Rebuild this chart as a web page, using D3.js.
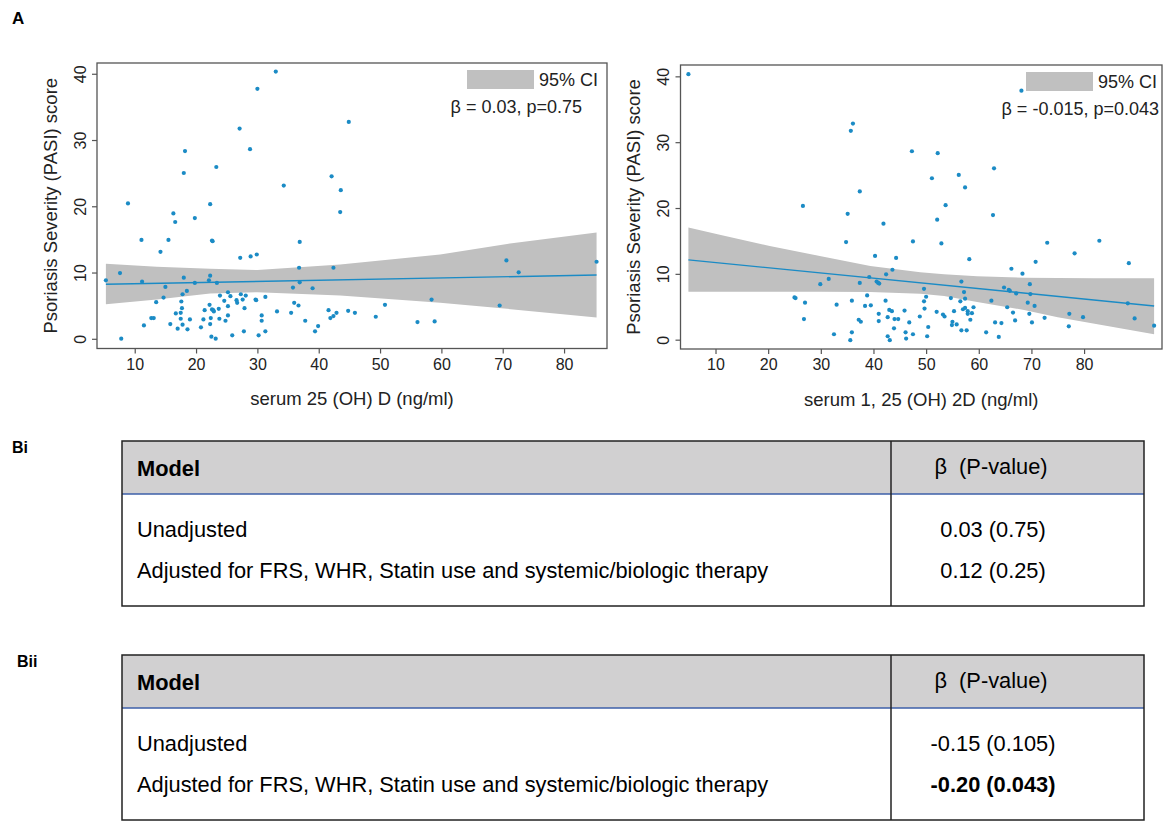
<!DOCTYPE html>
<html>
<head>
<meta charset="utf-8">
<script src="https://cdn.jsdelivr.net/npm/d3@7"></script>
<style>
  body { margin: 0; background: #fff; }
  svg { display: block; font-family: "Liberation Sans", Arial, Helvetica, sans-serif; }
</style>
</head>
<body>
<svg id="fig" width="1173" height="821"></svg>
<script>
// panel A (left): serum 25 (OH) D vs PASI
var ptsLeft = [[5.3,8.9],[7.6,10.0],[7.8,0.1],[8.9,20.5],[11.1,15.0],[11.2,8.7],[11.5,2.1],[12.7,3.2],[13.1,3.2],[13.5,5.6],
  [14.2,13.2],[14.7,6.3],[15.0,7.9],[15.5,15.0],[15.8,2.3],[16.3,19.0],[16.6,17.7],[16.7,3.9],[17.0,1.6],[17.5,4.0],
  [17.5,3.1],[17.6,5.7],[17.7,4.7],[17.8,6.8],[17.8,2.2],[18.0,9.3],[18.0,25.1],[18.2,28.4],[18.5,7.3],[18.6,1.5],
  [19.0,3.0],[19.8,18.3],[19.8,8.5],[20.8,1.8],[21.2,3.0],[21.4,4.4],[22.1,8.9],[22.2,5.2],[22.3,20.4],[22.3,9.6],
  [22.3,2.3],[22.4,3.2],[22.5,0.4],[22.6,14.9],[22.7,14.8],[22.6,4.5],[22.8,4.4],[22.9,4.2],[23.2,0.1],[23.3,26.0],
  [23.4,8.5],[23.7,4.6],[23.8,3.1],[23.9,6.6],[24.6,5.8],[24.8,2.8],[25.2,7.1],[25.2,5.0],[25.2,3.6],[25.6,6.5],
  [25.9,0.6],[26.6,5.9],[26.7,5.5],[27.1,31.8],[27.2,12.3],[27.3,6.8],[27.6,6.0],[27.8,1.2],[27.9,4.7],[28.1,6.6],
  [28.8,28.7],[28.9,12.5],[29.7,6.0],[29.8,5.9],[29.9,12.8],[30.0,37.8],[30.2,0.6],[30.7,3.6],[30.7,2.8],[31.3,6.4],
  [31.3,1.2],[33.0,40.4],[33.2,4.2],[34.3,23.2],[35.5,4.0],[35.8,7.8],[36.0,5.5],[36.7,5.1],[36.8,10.8],[36.9,14.7],
  [36.9,8.6],[37.8,2.8],[39.0,7.7],[39.4,1.2],[39.9,2.0],[41.6,4.4],[41.9,3.2],[42.1,24.6],[42.4,10.8],[42.4,3.5],
  [42.9,4.0],[43.5,19.2],[43.6,22.5],[44.8,4.3],[44.9,32.8],[45.9,4.0],[49.3,3.4],[50.8,5.2],[56.1,2.6],[58.4,6.0],
  [58.9,2.7],[69.5,5.1],[70.6,11.9],[72.6,10.1],[85.3,11.7]];
var fitLeft = [[5.3,8.3],[85.3,9.7]];
var bandXLeft  = [5.3, 13.6, 22.3, 30, 43.5, 59.8, 70.7, 85.3];
var bandLoLeft = [5.3, 6.0, 6.9, 7.1, 6.6, 5.5, 4.6, 3.3];
var bandHiLeft = [11.4, 10.95, 10.65, 10.45, 11.3, 12.8, 14.4, 16.1];

// panel A (right): serum 1,25 (OH) 2D vs PASI
var ptsRight = [[4.85,40.4],[25.0,6.5],[25.2,6.4],[26.6,20.4],[27.0,5.7],[26.8,3.2],[29.9,8.5],[31.5,9.3],[32.5,0.9],[33.0,5.4],
  [34.8,14.9],[35.1,19.2],[35.6,0.0],[35.7,31.8],[35.9,6.0],[35.9,1.2],[36.1,32.9],[37.2,3.1],[37.4,8.7],[37.4,22.6],
  [37.6,2.8],[38.4,5.2],[38.8,6.8],[39.2,9.6],[39.5,5.3],[40.3,12.8],[40.6,8.9],[40.9,8.7],[41.1,8.6],[41.0,4.0],
  [41.0,2.9],[41.9,17.7],[42.3,6.0],[42.4,10.0],[42.7,0.6],[42.7,3.5],[43.0,4.6],[43.1,0.0],[43.5,4.4],[43.6,10.7],
  [43.9,1.8],[44.0,3.2],[44.3,12.5],[44.7,3.2],[45.9,4.5],[46.1,1.2],[46.2,0.25],[46.8,2.7],[47.3,28.7],[47.5,15.0],
  [47.5,0.9],[48.8,3.6],[49.6,7.8],[49.6,5.9],[49.7,4.8],[50.0,6.6],[50.2,0.6],[50.4,2.0],[51.1,24.6],[52.0,4.3],
  [52.1,18.3],[52.2,28.4],[52.9,14.7],[53.2,3.9],[53.5,3.6],[53.7,20.5],[54.7,6.4],[54.9,2.3],[55.0,2.8],[55.3,4.4],
  [55.8,2.4],[56.2,25.1],[56.5,5.9],[56.7,8.9],[56.7,1.5],[57.0,4.7],[57.2,7.3],[57.4,23.2],[57.4,6.3],[57.4,4.9],
  [57.7,1.5],[57.9,4.0],[57.9,4.4],[58.2,12.3],[58.4,3.1],[58.7,4.1],[59.0,5.0],[61.4,1.2],[62.4,6.0],[62.7,19.0],
  [62.9,26.1],[63.1,2.7],[63.8,0.5],[64.3,2.6],[64.8,8.0],[65.4,5.0],[65.7,7.65],[65.9,7.5],[66.2,10.85],[66.5,4.2],
  [66.9,3.0],[67.1,7.1],[68.1,37.9],[68.3,10.1],[69.3,5.7],[69.7,8.5],[69.8,7.0],[69.6,4.0],[70.1,2.7],[70.6,5.2],
  [70.8,11.9],[72.5,3.4],[73.0,14.8],[77.1,2.1],[77.2,4.0],[78.2,13.2],[79.8,3.5],[82.9,15.1],[88.3,5.6],[88.5,11.7],
  [89.6,3.3],[93.3,2.2]];
var fitRight = [[4.85,12.2],[93.3,5.2]];
var bandXRight  = [4.85, 10.8, 20.3, 29.8, 39.4, 48.9, 53.4, 59.7, 68.6, 75, 82, 93.3];
var bandHiRight = [17.1, 16.0, 14.3, 12.8, 11.25, 10.3, 10.0, 9.7, 9.5, 9.45, 9.4, 9.4];
var bandLoRight = [7.35, 7.35, 7.35, 7.35, 7.3, 7.05, 6.7, 5.8, 4.6, 3.5, 2.5, 0.9];

var yTicks = [0, 10, 20, 30, 40];
var xTicks = [10, 20, 30, 40, 50, 60, 70, 80];
var yTitle = "Psoriasis Severity (PASI) score";
var xTitleLeft = "serum 25 (OH) D (ng/ml)";
var xTitleRight = "serum 1, 25 (OH) 2D (ng/ml)";
var statLeft = "\u03b2 = 0.03, p=0.75";
var statRight = "\u03b2 = -0.015, p=0.043";

// tables Bi / Bii
var tableHeader = ["Model", "\u03b2\u00a0 (P-value)"];
var modelNames = ["Unadjusted", "Adjusted for FRS, WHR, Statin use and systemic/biologic therapy"];
var betaBi  = ["0.03 (0.75)", "0.12 (0.25)"];
var betaBii = ["-0.15 (0.105)", "-0.20 (0.043)"];
var boldBii = [false, true];

var blue = "#1b8bc5";
var svg = d3.select("#fig");

svg.append("text").attr("x", 12).attr("y", 24)
  .style("font-weight", "bold").style("font-size", "17px").text("A");

function drawPanel(o) {
  var x = d3.scaleLinear().domain(o.xDom).range([o.left, o.right]);
  var y = d3.scaleLinear().domain(o.yDom).range([o.bottom, o.top]);
  var g = svg.append("g");

  // confidence band
  var band = o.bandX.map((d, i) => ({x: d, lo: o.bandLo[i], hi: o.bandHi[i]}));
  g.append("path").datum(band)
    .attr("fill", "#c0c0c0")
    .attr("d", d3.area().x(d => x(d.x)).y0(d => y(d.lo)).y1(d => y(d.hi)));

  // fitted line
  g.append("path").datum(o.fit)
    .attr("fill", "none").attr("stroke", blue).attr("stroke-width", 1.4)
    .attr("d", d3.line().x(d => x(d[0])).y(d => y(d[1])));

  g.selectAll("circle.pt").data(o.pts).enter().append("circle")
    .attr("class", "pt")
    .attr("cx", d => x(d[0])).attr("cy", d => y(d[1]))
    .attr("r", 2.1).attr("fill", blue);

  // frame
  g.append("rect").attr("x", o.left).attr("y", o.top)
    .attr("width", o.right - o.left).attr("height", o.bottom - o.top)
    .attr("fill", "none").attr("stroke", "#555").attr("stroke-width", 1.3);

  // axes
  var ya = g.append("g").attr("transform", "translate(" + o.left + ",0)")
    .call(d3.axisLeft(y).tickValues(yTicks).tickSize(5).tickFormat(d3.format("d")));
  ya.select(".domain").remove();
  ya.selectAll("line").attr("stroke", "#555").attr("stroke-width", 1.2);
  ya.selectAll("text")
    .attr("x", 0).attr("dy", null)
    .attr("transform", d => "translate(-17," + y(d) + ") rotate(-90)")
    .attr("y", 0)
    .attr("text-anchor", "middle").attr("dominant-baseline", "central")
    .style("font-size", "16px").attr("fill", "#222");
  ya.selectAll(".tick").attr("transform", null);
  ya.selectAll(".tick line").attr("y1", d => y(d)).attr("y2", d => y(d)).attr("x2", -5);

  var xa = g.append("g").attr("transform", "translate(0," + o.bottom + ")")
    .call(d3.axisBottom(x).tickValues(xTicks).tickSize(5).tickFormat(d3.format("d")));
  xa.select(".domain").remove();
  xa.selectAll("line").attr("stroke", "#555").attr("stroke-width", 1.2);
  xa.selectAll("text").attr("y", 10).style("font-size", "16px").attr("fill", "#222");

  // titles
  g.append("text")
    .attr("transform", "translate(" + (o.left - 47) + "," + ((o.top + o.bottom) / 2) + ") rotate(-90)")
    .attr("text-anchor", "middle").attr("dominant-baseline", "central")
    .style("font-size", "18.5px").attr("fill", "#222").text(yTitle);
  g.append("text")
    .attr("x", (o.left + o.right) / 2).attr("y", o.bottom + 50)
    .attr("text-anchor", "middle").attr("dominant-baseline", "central")
    .style("font-size", "18.5px").attr("fill", "#222").text(o.xTitle);

  // legend
  g.append("rect").attr("x", o.legX).attr("y", o.top + 7)
    .attr("width", 67).attr("height", 19).attr("fill", "#c0c0c0");
  g.append("text").attr("x", o.legX + 72).attr("y", o.top + 17)
    .attr("dominant-baseline", "central").style("font-size", "18px").attr("fill", "#222")
    .text("95% CI");
  g.append("text").attr("x", o.statX).attr("y", o.top + 44)
    .attr("text-anchor", "end").attr("dominant-baseline", "central")
    .style("font-size", "18px").attr("fill", "#222").text(o.stat);
}

drawPanel({left: 97, right: 607, top: 63, bottom: 348.5,
  xDom: [3.85, 87.0], yDom: [-1.39, 41.7],
  pts: ptsLeft, fit: fitLeft, bandX: bandXLeft, bandLo: bandLoLeft, bandHi: bandHiLeft,
  xTitle: xTitleLeft, stat: statLeft, legX: 467, statX: 582});

drawPanel({left: 680.5, right: 1162, top: 65, bottom: 349,
  xDom: [3.35, 94.8], yDom: [-1.34, 41.8],
  pts: ptsRight, fit: fitRight, bandX: bandXRight, bandLo: bandLoRight, bandHi: bandHiRight,
  xTitle: xTitleRight, stat: statRight, legX: 1026, statX: 1159});

function drawTable(label, labelX, top, values, bold) {
  var left = 122, right = 1144, split = 891, headH = 53, h = 165;
  var fs = "21.8px";
  var t = svg.append("g");
  t.append("text").attr("x", labelX).attr("y", top + 6)
    .attr("dominant-baseline", "central")
    .style("font-weight", "bold").style("font-size", "16px").text(label);
  t.append("rect").attr("x", left).attr("y", top).attr("width", right - left).attr("height", headH)
    .attr("fill", "#d1d0d1");
  t.append("line").attr("x1", left).attr("x2", right).attr("y1", top + headH).attr("y2", top + headH)
    .attr("stroke", "#3c5fa8").attr("stroke-width", 1.5);
  t.append("rect").attr("x", left).attr("y", top).attr("width", right - left).attr("height", h)
    .attr("fill", "none").attr("stroke", "#222").attr("stroke-width", 1.5);
  t.append("line").attr("x1", split).attr("x2", split).attr("y1", top).attr("y2", top + h)
    .attr("stroke", "#222").attr("stroke-width", 1.5);

  var colX = 991;
  t.append("text").attr("x", 137).attr("y", top + 27).attr("dominant-baseline", "central")
    .style("font-size", fs).style("font-weight", "bold").text(tableHeader[0]);
  t.append("text").attr("x", colX).attr("y", top + 25).attr("text-anchor", "middle")
    .attr("dominant-baseline", "central").style("font-size", fs).text(tableHeader[1]);

  var rowY = [top + 88, top + 129];
  t.selectAll("text.name").data(modelNames).enter().append("text")
    .attr("class", "name").attr("x", 137).attr("y", (d, i) => rowY[i])
    .attr("dominant-baseline", "central").style("font-size", fs).text(d => d);
  t.selectAll("text.val").data(values).enter().append("text")
    .attr("class", "val").attr("x", colX + 2).attr("y", (d, i) => rowY[i])
    .attr("text-anchor", "middle").attr("dominant-baseline", "central")
    .style("font-size", fs).style("font-weight", (d, i) => bold[i] ? "bold" : "normal")
    .text(d => d);
}

drawTable("Bi", 12, 441, betaBi, [false, false]);
drawTable("Bii", 17, 655, betaBii, boldBii);
</script>
</body>
</html>
